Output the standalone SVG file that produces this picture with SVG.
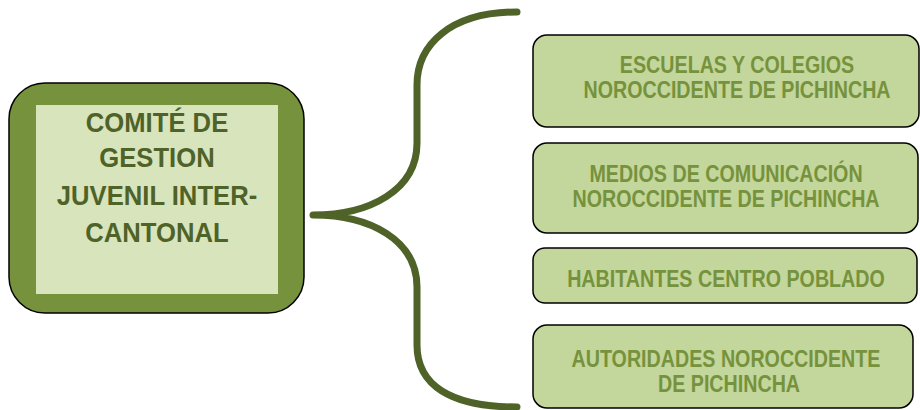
<svg xmlns="http://www.w3.org/2000/svg" width="920" height="410" viewBox="0 0 920 410">
<style>
.main-outer{fill:#76923c;stroke:#000;stroke-width:1.5}
.main-inner{fill:#d7e4bc}
.main-text{font-family:"Liberation Sans",Arial,sans-serif;font-weight:bold;font-size:27px;fill:#4f6228;text-anchor:middle}
.box{fill:#c3d69b;stroke:#000;stroke-width:1.5}
.box-text{font-family:"Liberation Sans",Arial,sans-serif;font-weight:bold;font-size:24px;fill:#76923c;text-anchor:middle}
.brace{fill:none;stroke:#4f6228;stroke-width:7;stroke-linecap:round;stroke-linejoin:round}
</style>
<rect width="920" height="410" fill="#fff"/>
<g id="connectors">
<path class="brace" d="M517,12 C450,12 417,45 417,85 L417,143 C417,190 370,215 313,215 C370,215 417,240 417,287 L417,345 C417,385 450,407 517,407"/>
</g>
<g id="comite">
<rect class="main-outer" x="9" y="83" width="295" height="230" rx="36" ry="36"/>
<rect class="main-inner" x="36" y="105" width="242" height="189"/>
<text class="main-text" transform="translate(157,132) scale(0.95,1)">COMITÉ DE</text>
<text class="main-text" transform="translate(157,167) scale(0.95,1)">GESTION</text>
<text class="main-text" transform="translate(157,205) scale(0.95,1)">JUVENIL INTER-</text>
<text class="main-text" transform="translate(157,242) scale(0.95,1)">CANTONAL</text>
</g>
<g id="escuelas">
<rect class="box" x="533" y="35" width="386" height="92" rx="14" ry="14"/>
<text class="box-text" transform="translate(737,73) scale(0.82,1)">ESCUELAS Y COLEGIOS</text>
<text class="box-text" transform="translate(737,98) scale(0.82,1)">NOROCCIDENTE DE PICHINCHA</text>
</g>
<g id="medios">
<rect class="box" x="533" y="143" width="385" height="90" rx="14" ry="14"/>
<text class="box-text" transform="translate(726,182) scale(0.82,1)">MEDIOS DE COMUNICACIÓN</text>
<text class="box-text" transform="translate(726,207) scale(0.82,1)">NOROCCIDENTE DE PICHINCHA</text>
</g>
<g id="habitantes">
<rect class="box" x="533" y="248" width="384" height="55" rx="12" ry="12"/>
<text class="box-text" transform="translate(726,287) scale(0.82,1)">HABITANTES CENTRO POBLADO</text>
</g>
<g id="autoridades">
<rect class="box" x="533" y="325" width="380" height="83" rx="14" ry="14"/>
<text class="box-text" transform="translate(726,367) scale(0.82,1)">AUTORIDADES NOROCCIDENTE</text>
<text class="box-text" transform="translate(729,392) scale(0.82,1)">DE PICHINCHA</text>
</g>
</svg>
